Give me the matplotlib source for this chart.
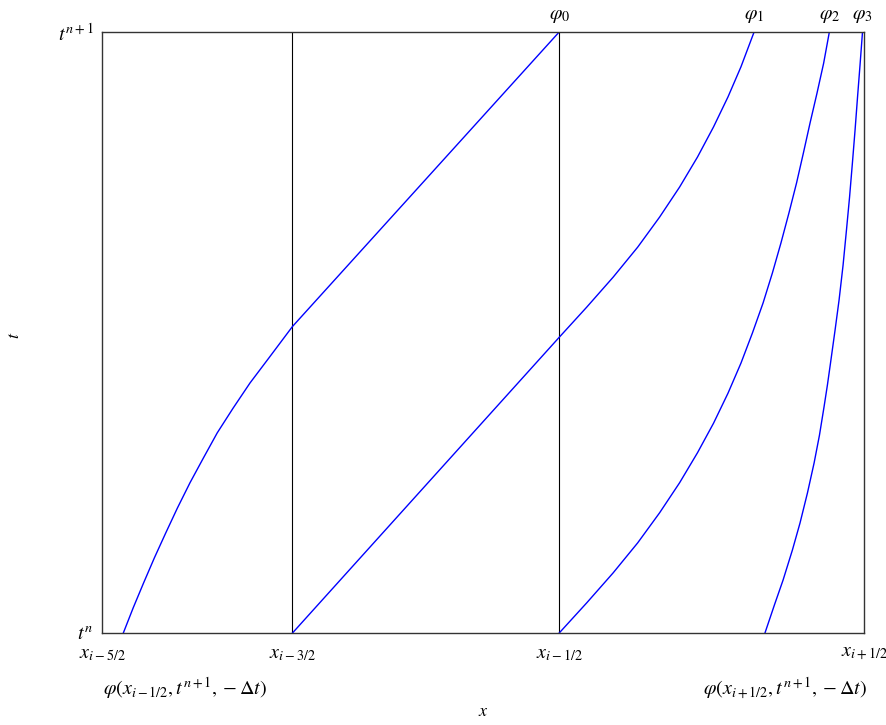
import matplotlib
matplotlib.use("Agg")
import matplotlib.pyplot as plt

plt.rcParams['mathtext.fontset'] = 'stix'
plt.rcParams['font.family'] = 'STIXGeneral'

# cell interfaces x_{i-5/2} .. x_{i+1/2}
x_faces = [0.0, 1.0, 2.4, 4.0]
face_labels = [r'$x_{i-5/2}$', r'$x_{i-3/2}$', r'$x_{i-1/2}$', r'$x_{i+1/2}$']

# characteristic curves traced back from t^{n+1} to t^n
x_phi0 = [0.112, 0.164, 0.218, 0.275, 0.334, 0.396, 0.462, 0.532, 0.605,
          0.688, 0.777, 0.877, 1.0, 1.7, 2.4]
t_phi0 = [0.0, 0.042, 0.083, 0.125, 0.166, 0.208, 0.250, 0.291, 0.333,
          0.374, 0.416, 0.458, 0.510, 0.755, 1.0]

x_phi1 = [1.0, 1.7, 2.4, 2.544, 2.683, 2.812, 2.927, 3.032, 3.126,
          3.210, 3.286, 3.354, 3.423]
t_phi1 = [0.0, 0.246, 0.492, 0.542, 0.592, 0.642, 0.692, 0.742, 0.792,
          0.842, 0.892, 0.942, 1.0]

x_phi2 = [2.4, 2.544, 2.683, 2.812, 2.927, 3.032, 3.126, 3.210, 3.286,
          3.354, 3.414, 3.470, 3.519, 3.564, 3.606, 3.646, 3.682, 3.717,
          3.753, 3.788, 3.818]
t_phi2 = [0.0, 0.050, 0.100, 0.150, 0.200, 0.250, 0.300, 0.349, 0.399,
          0.449, 0.499, 0.549, 0.599, 0.649, 0.699, 0.749, 0.799, 0.849,
          0.898, 0.948, 1.0]

x_phi3 = [3.480, 3.530, 3.575, 3.624, 3.664, 3.703, 3.738, 3.766, 3.790,
          3.808, 3.824, 3.848, 3.869, 3.890, 3.908, 3.924, 3.939, 3.953,
          3.966, 3.979, 3.992]
t_phi3 = [0.0, 0.047, 0.088, 0.138, 0.183, 0.233, 0.283, 0.329, 0.376,
          0.413, 0.449, 0.504, 0.554, 0.612, 0.671, 0.725, 0.782, 0.837,
          0.892, 0.945, 1.0]

curves = [(x_phi0, t_phi0), (x_phi1, t_phi1), (x_phi2, t_phi2), (x_phi3, t_phi3)]
curve_labels = [r'$\varphi_0$', r'$\varphi_1$', r'$\varphi_2$', r'$\varphi_3$']

foot_labels = [r'$\varphi(x_{i-1/2},t^{n+1},-\Delta t)$', r'$\varphi(x_{i+1/2},t^{n+1},-\Delta t)$']
foot_x = [0.436, 3.585]

fig = plt.figure(figsize=(8.86, 7.25), dpi=100)
ax = fig.add_axes([0.1151, 0.1269, 0.8601, 0.829])

for xf in x_faces[1:-1]:
    ax.axvline(xf, color='black', lw=0.8)

for (xs, ts), lab in zip(curves, curve_labels):
    ax.plot(xs, ts, color='blue', lw=1.0)
    ax.annotate(lab, (xs[-1], 1.0), xytext=(0, 5), textcoords='offset points',
                ha='center', va='bottom', fontsize=14.5, annotation_clip=False)

for xx, lab in zip(foot_x, foot_labels):
    ax.text(xx, -0.0915, lab, ha='center', va='center', fontsize=14.5)

ax.set_xlim(x_faces[0], x_faces[-1])
ax.set_ylim(0, 1)
ax.set_xticks(x_faces)
ax.set_xticklabels(face_labels, fontsize=14.5)
ax.set_yticks([0, 1])
ax.set_yticklabels([r'$t^n$', r'$t^{n+1}$'], fontsize=14.5)
ax.tick_params(length=0, pad=9)
ax.tick_params(axis='y', pad=6)
for s in ax.spines.values():
    s.set_color('#333333')
    s.set_linewidth(1.0)

# axis labels
fig.text(483 / 886, 1 - 712 / 725, r'$x$', ha='center', va='center', fontsize=13)
fig.text(15 / 886, 1 - 335 / 725, r'$t$', ha='center', va='center', fontsize=13,
         rotation=90)

fig.savefig('out.png', dpi=100)
